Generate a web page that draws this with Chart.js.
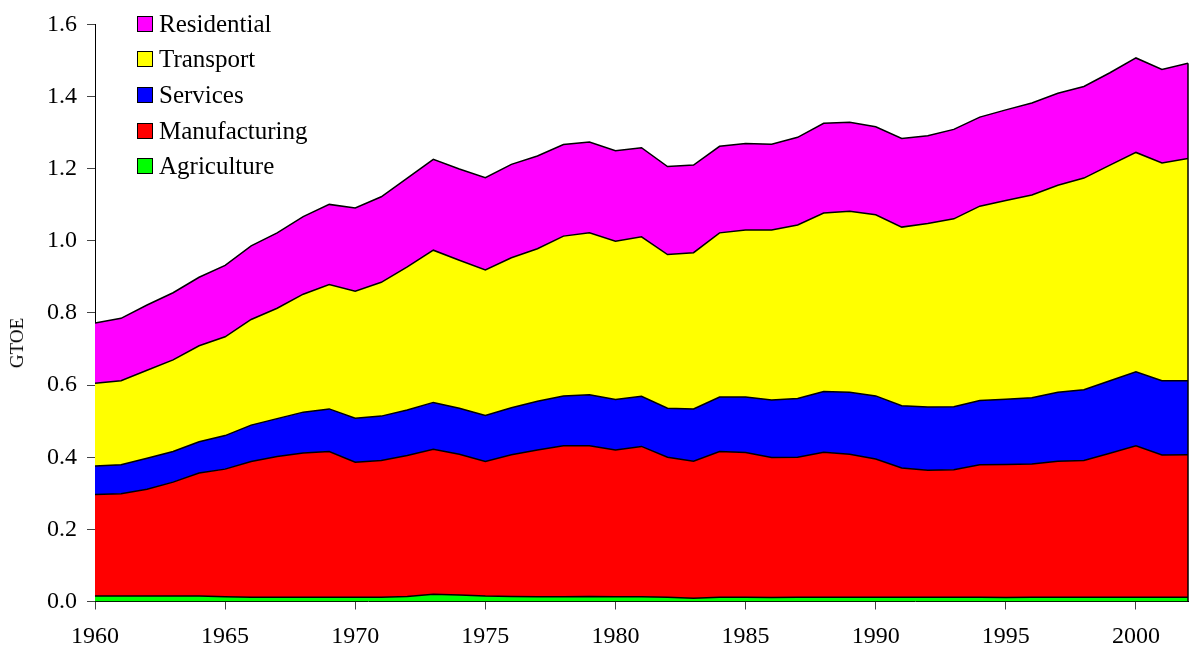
<!DOCTYPE html>
<html>
<head>
<meta charset="utf-8">
<script src="https://cdn.jsdelivr.net/npm/chart.js@4"></script>
<style>
  body { margin: 0; background: #fff; }
  #wrap { position: relative; width: 1192px; height: 657px; }
  #legend { position: absolute; left: 137px; top: 6px; font-family: "Liberation Serif", "Times New Roman", serif; font-size: 25px; color: #000; }
  .row { display: flex; align-items: center; height: 35.6px; white-space: nowrap; }
  .box { width: 14px; height: 14px; border: 1.5px solid #000; margin-right: 6px; }
  #ytitle { position: absolute; left: 17px; top: 343px; transform: translate(-50%, -50%) rotate(-90deg); font: 19px "Liberation Serif", "Times New Roman", serif; white-space: nowrap; color: #000; }
</style>
</head>
<body>
<div id="wrap">
  <canvas id="chart" width="1192" height="657"></canvas>
  <div id="legend"></div>
  <div id="ytitle">GTOE</div>
</div>
<script>
// energy use by sector, GTOE
const years = [1960, 1961, 1962, 1963, 1964, 1965, 1966, 1967, 1968, 1969,
  1970, 1971, 1972, 1973, 1974, 1975, 1976, 1977, 1978, 1979,
  1980, 1981, 1982, 1983, 1984, 1985, 1986, 1987, 1988, 1989,
  1990, 1991, 1992, 1993, 1994, 1995, 1996, 1997, 1998, 1999,
  2000, 2001, 2002];

const agriculture = [0.015, 0.015, 0.015, 0.015, 0.015, 0.013, 0.012, 0.012, 0.012, 0.012,
  0.012, 0.012, 0.014, 0.020, 0.018, 0.015, 0.014, 0.013, 0.013, 0.014,
  0.013, 0.013, 0.012, 0.009, 0.012, 0.012, 0.011, 0.012, 0.012, 0.012,
  0.012, 0.012, 0.012, 0.012, 0.012, 0.011, 0.012, 0.012, 0.012, 0.012,
  0.012, 0.012, 0.012];

const manufacturing = [0.282, 0.284, 0.296, 0.316, 0.341, 0.354, 0.376, 0.390, 0.400, 0.404,
  0.374, 0.379, 0.391, 0.402, 0.390, 0.373, 0.393, 0.407, 0.419, 0.418,
  0.407, 0.417, 0.388, 0.380, 0.404, 0.401, 0.388, 0.388, 0.402, 0.396,
  0.383, 0.358, 0.352, 0.353, 0.367, 0.369, 0.369, 0.377, 0.379, 0.399,
  0.420, 0.394, 0.395];

const services = [0.079, 0.080, 0.086, 0.085, 0.087, 0.093, 0.101, 0.105, 0.113, 0.118,
  0.122, 0.123, 0.126, 0.130, 0.128, 0.128, 0.130, 0.135, 0.138, 0.141,
  0.140, 0.139, 0.136, 0.145, 0.151, 0.154, 0.160, 0.163, 0.168, 0.172,
  0.175, 0.173, 0.175, 0.175, 0.178, 0.181, 0.184, 0.191, 0.196, 0.201,
  0.205, 0.206, 0.205];

const transport = [0.229, 0.233, 0.244, 0.254, 0.266, 0.274, 0.293, 0.306, 0.327, 0.345,
  0.352, 0.371, 0.397, 0.422, 0.410, 0.403, 0.416, 0.423, 0.443, 0.449,
  0.439, 0.442, 0.426, 0.433, 0.455, 0.463, 0.471, 0.481, 0.495, 0.502,
  0.502, 0.495, 0.509, 0.521, 0.539, 0.551, 0.562, 0.574, 0.587, 0.598,
  0.608, 0.604, 0.616];

const residential = [0.167, 0.173, 0.181, 0.186, 0.190, 0.198, 0.204, 0.209, 0.215, 0.222,
  0.231, 0.237, 0.246, 0.252, 0.253, 0.256, 0.259, 0.257, 0.254, 0.252,
  0.251, 0.247, 0.244, 0.243, 0.240, 0.240, 0.238, 0.243, 0.249, 0.247,
  0.244, 0.246, 0.243, 0.248, 0.247, 0.251, 0.255, 0.255, 0.254, 0.256,
  0.262, 0.259, 0.264];

const xTicks = [1960, 1965, 1970, 1975, 1980, 1985, 1990, 1995, 2000];
const yTicks = [0, 0.2, 0.4, 0.6, 0.8, 1.0, 1.2, 1.4, 1.6];

const serif = '"Liberation Serif", "Times New Roman", serif';

function area(label, values, color, fill) {
  return {
    label: label,
    data: values.map((v, i) => ({ x: years[i], y: v })),
    backgroundColor: color,
    borderColor: '#000',
    borderWidth: 1.5,
    pointRadius: 0,
    tension: 0,
    fill: fill
  };
}

const datasets = [
  area('Agriculture', agriculture, '#00ff00', 'origin'),
  area('Manufacturing', manufacturing, '#ff0000', '-1'),
  area('Services', services, '#0000ff', '-1'),
  area('Transport', transport, '#ffff00', '-1'),
  area('Residential', residential, '#ff00ff', '-1')
];

// closing edge on the right end of the stack
const edgeLine = {
  id: 'edgeLine',
  afterDatasetsDraw(chart) {
    const meta = chart.getDatasetMeta(chart.data.datasets.length - 1);
    const last = meta.data[meta.data.length - 1];
    const ctx = chart.ctx;
    ctx.save();
    ctx.strokeStyle = '#000';
    ctx.lineWidth = 1.5;
    ctx.beginPath();
    ctx.moveTo(last.x, last.y);
    ctx.lineTo(last.x, chart.chartArea.bottom);
    ctx.stroke();
    ctx.restore();
  }
};

new Chart(document.getElementById('chart'), {
  type: 'line',
  data: { datasets: datasets },
  plugins: [edgeLine],
  options: {
    responsive: false,
    devicePixelRatio: 1,
    animation: false,
    layout: { padding: { top: 18.5, right: 4, left: 0, bottom: 0 } },
    plugins: {
      legend: { display: false },
      tooltip: { enabled: false }
    },
    scales: {
      x: {
        type: 'linear',
        min: 1960,
        max: 2002,
        z: 1,
        grid: { drawOnChartArea: false, drawTicks: true, tickLength: 8, color: '#444' },
        border: { color: '#000', width: 1 },
        ticks: {
          color: '#000',
          font: { family: serif, size: 24 },
          padding: 13,
          maxRotation: 0,
          callback: v => String(v)
        },
        afterBuildTicks: axis => { axis.ticks = xTicks.map(v => ({ value: v })); },
        afterFit: s => { s.height = 55.5; }
      },
      y: {
        stacked: true,
        min: 0,
        max: 1.6,
        z: 1,
        grid: { drawOnChartArea: false, drawTicks: true, tickLength: 8, color: '#444' },
        border: { color: '#000', width: 1 },
        ticks: {
          color: '#000',
          font: { family: serif, size: 24 },
          padding: 10,
          callback: v => v.toFixed(1)
        },
        afterBuildTicks: axis => { axis.ticks = yTicks.map(v => ({ value: v })); },
        afterFit: s => { s.width = 95; }
      }
    }
  }
});

// legend, top entry first
const legend = document.getElementById('legend');
datasets.slice().reverse().forEach(ds => {
  const row = document.createElement('div');
  row.className = 'row';
  const box = document.createElement('span');
  box.className = 'box';
  box.style.background = ds.backgroundColor;
  const txt = document.createElement('span');
  txt.textContent = ds.label;
  row.appendChild(box);
  row.appendChild(txt);
  legend.appendChild(row);
});
</script>
</body>
</html>
